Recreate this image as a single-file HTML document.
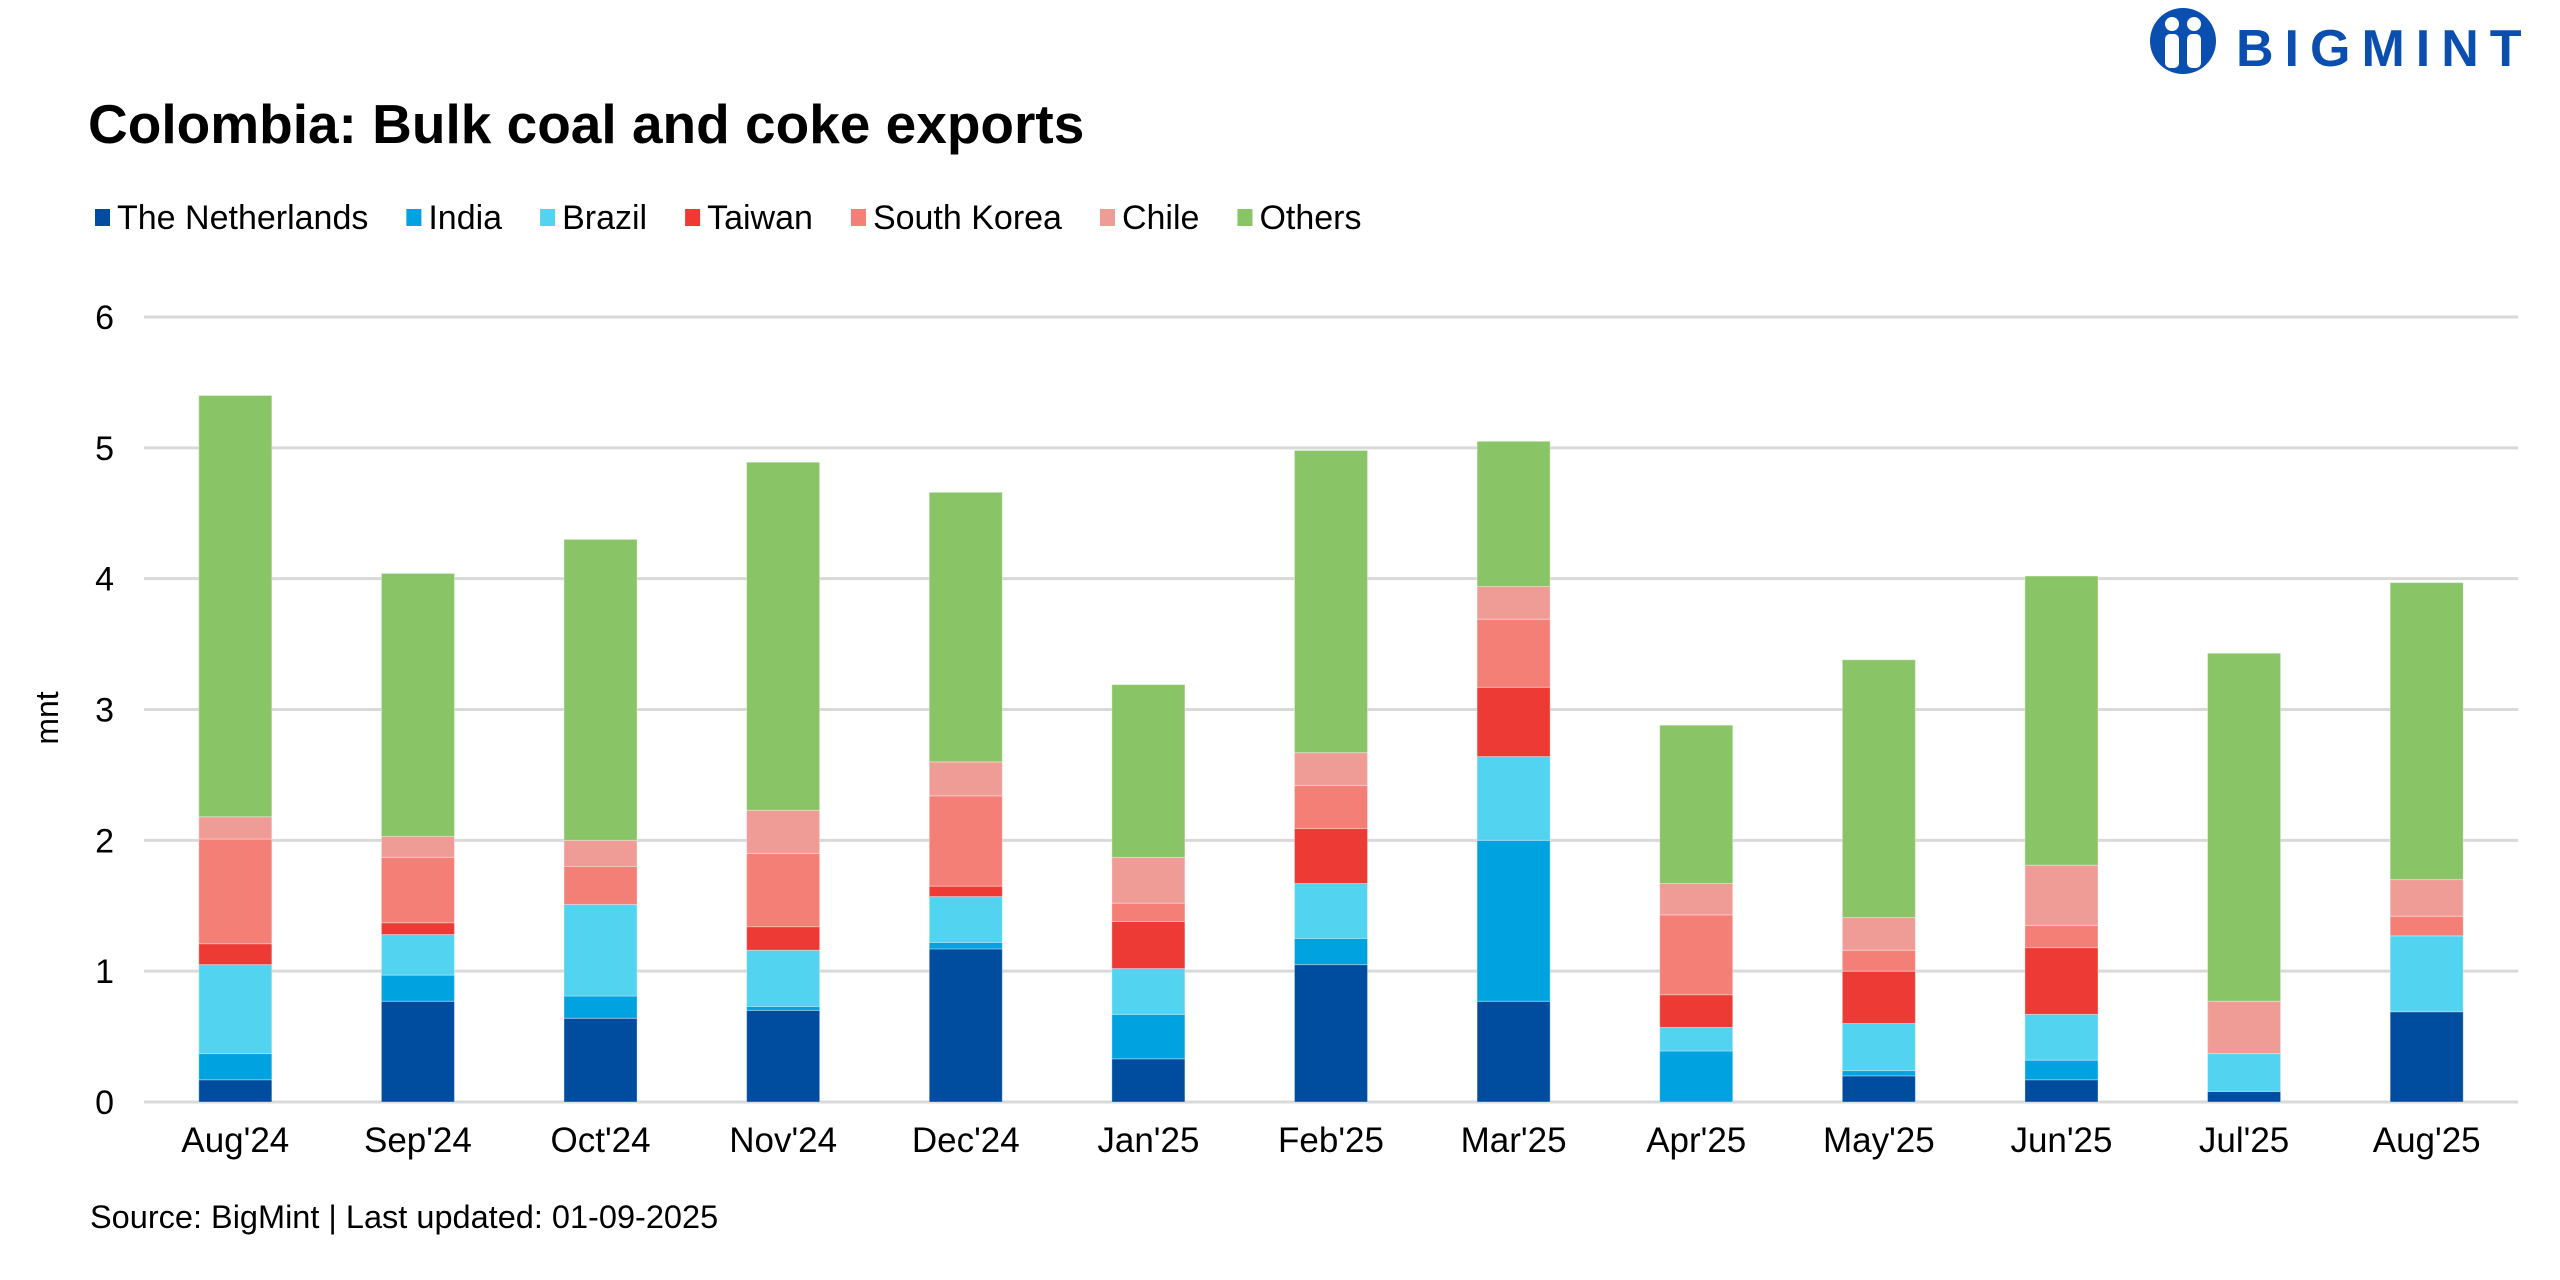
<!DOCTYPE html>
<html><head><meta charset="utf-8">
<style>
html,body{margin:0;padding:0;background:#fff;}
svg{display:block;font-family:"Liberation Sans",Arial,sans-serif;}
</style></head>
<body>
<svg id="chart" width="2560" height="1280" viewBox="0 0 2560 1280" xmlns="http://www.w3.org/2000/svg">
  <g>
    <circle cx="2183" cy="41" r="33" fill="#0a4fb0"/>
    <circle cx="2172" cy="24" r="7" fill="#fff"/>
    <circle cx="2194" cy="24" r="7" fill="#fff"/>
    <rect x="2165" y="34" width="14" height="34" rx="5" fill="#fff"/>
    <rect x="2187" y="34" width="14" height="34" rx="5" fill="#fff"/>
    <text x="2236" y="66" font-size="52" font-weight="bold" fill="#0a4fb0" letter-spacing="11">BIGMINT</text>
  </g>
  <text x="88" y="143" font-size="55" font-weight="bold" fill="#000">Colombia: Bulk coal and coke exports</text>
  <g id="legend"></g>
  <g id="grid"></g>
  <g id="bars"></g>
  <g id="xaxis"></g>
  <g id="yaxis"></g>
  <text transform="translate(58,718) rotate(-90)" text-anchor="middle" font-size="32" fill="#000">mnt</text>
  <text x="90" y="1228" font-size="32.5" fill="#000">Source: BigMint | Last updated: 01-09-2025</text>
</svg>
<script>
const categories = ["Aug'24","Sep'24","Oct'24","Nov'24","Dec'24","Jan'25","Feb'25","Mar'25","Apr'25","May'25","Jun'25","Jul'25","Aug'25"];
const seriesNames = ["The Netherlands","India","Brazil","Taiwan","South Korea","Chile","Others"];
const netherlands = [0.17,0.77,0.64,0.70,1.17,0.33,1.05,0.77,0.00,0.20,0.17,0.08,0.69];
const india       = [0.20,0.20,0.17,0.03,0.05,0.34,0.20,1.23,0.39,0.04,0.15,0.00,0.00];
const brazil      = [0.68,0.31,0.70,0.43,0.35,0.35,0.42,0.64,0.18,0.36,0.35,0.29,0.58];
const taiwan      = [0.16,0.09,0.00,0.18,0.08,0.36,0.42,0.53,0.25,0.40,0.51,0.00,0.00];
const southKorea  = [0.80,0.50,0.29,0.56,0.69,0.14,0.33,0.52,0.61,0.16,0.17,0.00,0.15];
const chile       = [0.17,0.16,0.20,0.33,0.26,0.35,0.25,0.25,0.24,0.25,0.46,0.40,0.28];
const others      = [3.22,2.01,2.30,2.66,2.06,1.32,2.31,1.11,1.21,1.97,2.21,2.66,2.27];
const yTicks = [0,1,2,3,4,5,6];

const series = [netherlands,india,brazil,taiwan,southKorea,chile,others];
const colors = ["#004c9e","#00a2e0","#52d3f0","#ee3a34","#f47f76","#f09c96","#89c466"];
const NS="http://www.w3.org/2000/svg";
const plotL=144, plotR=2518, y0=1102, y6=317;
const band=(plotR-plotL)/categories.length, barW=band*0.4;
const yScale=v=>y0-(v/6)*(y0-y6);
const xCenter=i=>plotL+band*(i+0.5);
function mk(tag,attrs,parent){const e=document.createElementNS(NS,tag);for(const k in attrs)e.setAttribute(k,attrs[k]);parent.appendChild(e);return e;}

const grid=document.getElementById('grid'), yaxis=document.getElementById('yaxis');
yTicks.forEach(t=>{
  const l=mk('line',{x1:plotL,x2:plotR,y1:yScale(t),y2:yScale(t),stroke:'#d9d9d9','stroke-width':3},grid);
  
  
  const tx=mk('text',{x:114,y:yScale(t)+12,'text-anchor':'end','font-size':34,fill:'#000'},yaxis);
  tx.textContent=t;
  
  
});

const bars=document.getElementById('bars'), xaxis=document.getElementById('xaxis');
categories.forEach((c,i)=>{
  let cum=0;
  series.forEach((s,k)=>{
    const v=s[i]; if(v<=0) return;
    const yt=yScale(cum+v), yb=yScale(cum);
    const r=mk('rect',{x:xCenter(i)-barW/2,y:yt,width:barW,height:yb-yt,fill:colors[k],stroke:'#ffffff','stroke-opacity':0.35,'stroke-width':1},bars);
    
    
    cum+=v;
  });
  const tx=mk('text',{x:xCenter(i),y:1152,'text-anchor':'middle','font-size':35,fill:'#000'},xaxis);
  tx.textContent=c;
  
  
});

const legend=document.getElementById('legend');
let lx=95;
const ctx=document.createElement('canvas').getContext('2d');
ctx.font='34px "Liberation Sans", Arial, sans-serif';
seriesNames.forEach((n,k)=>{
  const r=mk('rect',{x:lx,y:209,width:15,height:17,fill:colors[k]},legend);
  
  
  const t=mk('text',{x:lx+22,y:229,'font-size':34,fill:'#000'},legend);
  t.textContent=n;
  
  
  lx+=22+ctx.measureText(n).width+38;
});
</script>
</body></html>
